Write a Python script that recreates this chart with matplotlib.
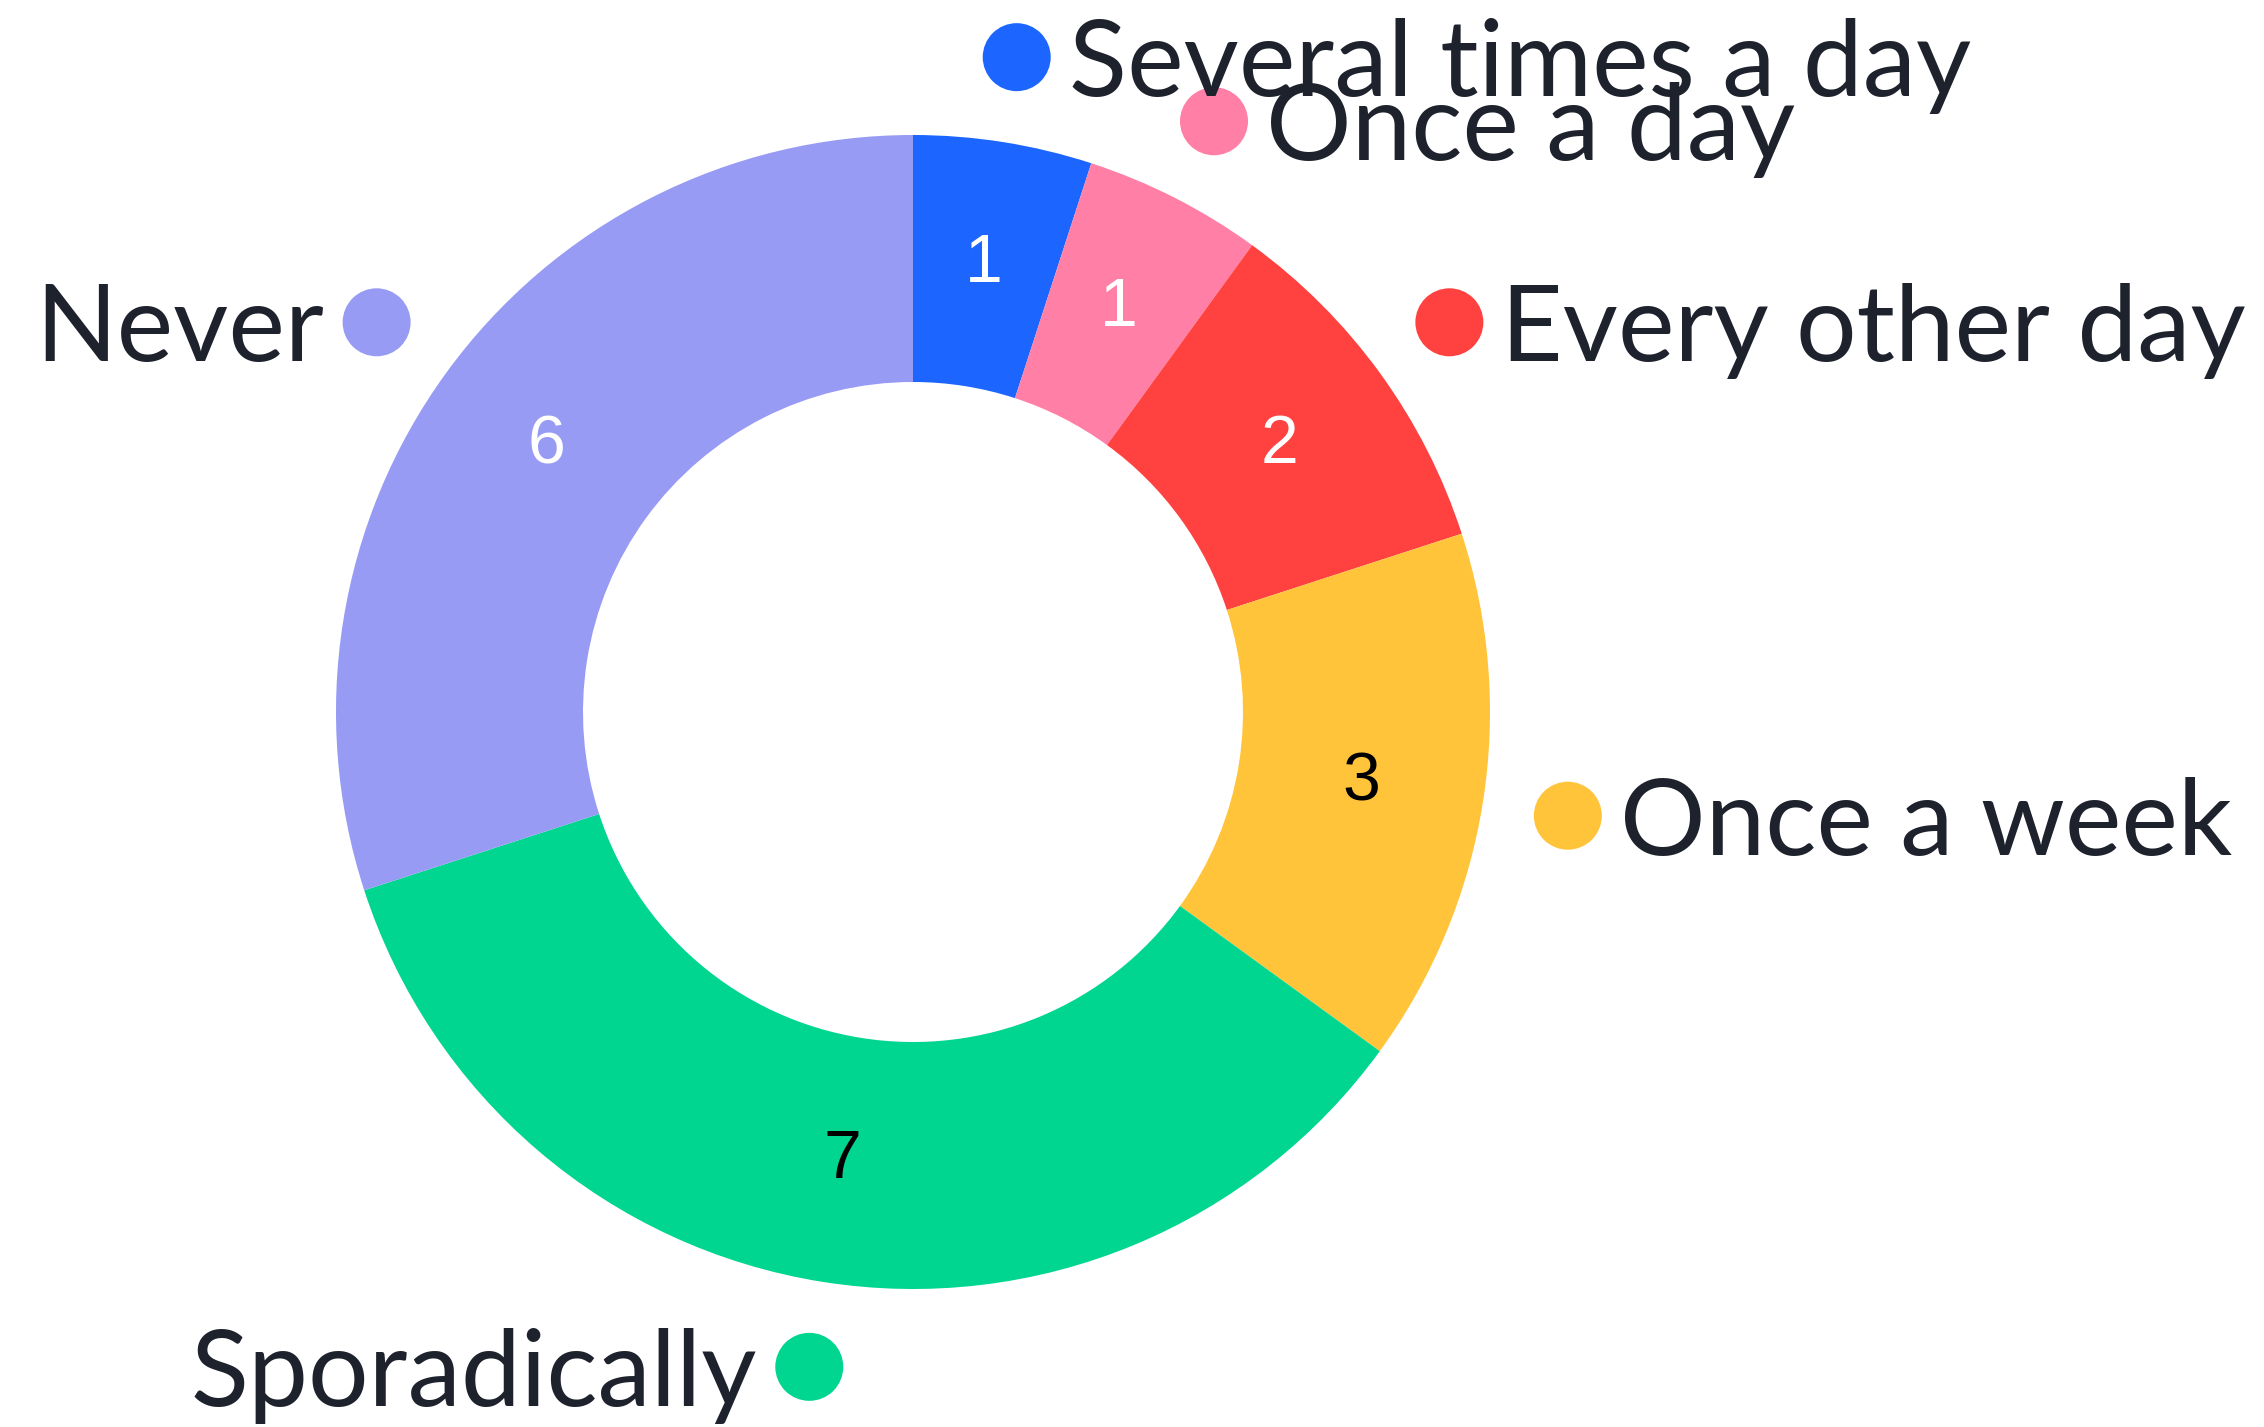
import matplotlib
matplotlib.use("Agg")
import matplotlib.pyplot as plt
from matplotlib.patches import Circle
import numpy as np

categories = ["Several times a day", "Once a day", "Every other day",
              "Once a week", "Sporadically", "Never"]
values = [1, 1, 2, 3, 7, 6]
colors = ["#1C66FF", "#FF7FA6", "#FF4140", "#FFC43A", "#00D690", "#979BF3"]
value_colors = ["white", "white", "white", "black", "black", "white"]

W, H = 2264, 1427
fig = plt.figure(figsize=(W / 100, H / 100), dpi=100)
ax = fig.add_axes([0, 0, 1, 1])

cx, cy = 913, H - 712
R_out, R_in = 577, 330
wedges, _ = ax.pie(values, colors=colors, startangle=90, counterclock=False,
                   radius=R_out, center=(cx, cy),
                   wedgeprops=dict(width=R_out - R_in, linewidth=0))
ax.set_xlim(0, W)
ax.set_ylim(0, H)
ax.set_aspect("equal")
ax.axis("off")

r_mid = (R_out + R_in) / 2
r_dot = 663
for w, cat, v, c, vc in zip(wedges, categories, values, colors, value_colors):
    ang = np.deg2rad((w.theta1 + w.theta2) / 2)
    ca, sa = np.cos(ang), np.sin(ang)
    ax.text(cx + r_mid * ca, cy + r_mid * sa, str(v), color=vc,
            fontsize=49, family="Liberation Sans", ha="center", va="center")
    dx, dy = cx + r_dot * ca, cy + r_dot * sa
    ax.add_patch(Circle((dx, dy), 34, color=c, lw=0))
    if ca >= 0:
        ax.text(dx + 52, dy, cat, ha="left", va="center_baseline",
                fontsize=77, family="Lato", color="#1E222D")
    else:
        ax.text(dx - 52, dy, cat, ha="right", va="center_baseline",
                fontsize=77, family="Lato", color="#1E222D")

fig.savefig("out.png", dpi=100, facecolor="white")
